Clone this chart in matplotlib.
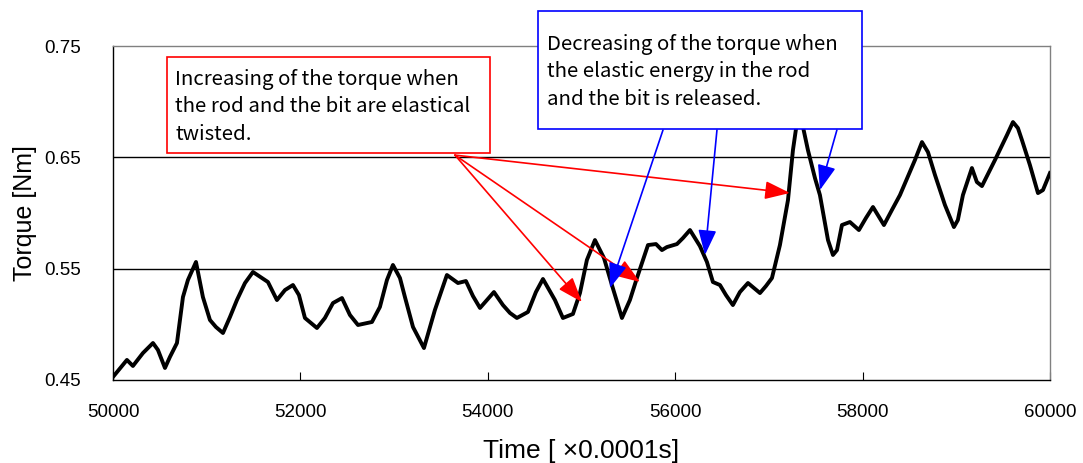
import matplotlib
matplotlib.use("Agg")
import matplotlib.pyplot as plt
from matplotlib.patches import Rectangle

# ── data ───────────────────────────────────────────────────────────────
time = [
    50000, 50149, 50213, 50320, 50427, 50480, 50555, 50608, 50683, 50747,
    50800, 50886, 50960, 51035, 51099, 51174, 51249, 51323, 51409, 51494,
    51590, 51654, 51750, 51836, 51921, 51985, 52049, 52177, 52262, 52348,
    52444, 52529, 52615, 52764, 52849, 52924, 52988, 53063, 53116, 53202,
    53319, 53436, 53564, 53682, 53767, 53842, 53917, 54066, 54162, 54237,
    54311, 54429, 54514, 54589, 54717, 54802, 54909, 54984, 55058, 55144,
    55240, 55325, 55432, 55517, 55592, 55710, 55795, 55859, 55912, 56019,
    56083, 56158, 56264, 56339, 56403, 56478, 56542, 56616, 56691, 56777,
    56905, 56969, 57033, 57118, 57204, 57257, 57300, 57353, 57417, 57492,
    57545, 57631, 57684, 57727, 57780, 57865, 57961, 58036, 58111, 58228,
    58313, 58399, 58559, 58634, 58698, 58773, 58879, 58975, 59017, 59071,
    59167, 59220, 59274, 59413, 59541, 59605, 59658, 59701, 59786, 59872,
    59925, 60000,
]
torque = [
    0.4527, 0.4680, 0.4626, 0.4742, 0.4832, 0.4770, 0.4608, 0.4707, 0.4832, 0.5245,
    0.5398, 0.5560, 0.5245, 0.5039, 0.4976, 0.4922, 0.5066, 0.5218, 0.5371, 0.5470,
    0.5416, 0.5380, 0.5218, 0.5308, 0.5353, 0.5263, 0.5057, 0.4967, 0.5057, 0.5191,
    0.5236, 0.5084, 0.4994, 0.5021, 0.5156, 0.5398, 0.5533, 0.5416, 0.5245, 0.4976,
    0.4787, 0.5129, 0.5443, 0.5371, 0.5389, 0.5254, 0.5147, 0.5290, 0.5173, 0.5102,
    0.5057, 0.5111, 0.5290, 0.5407, 0.5218, 0.5057, 0.5093, 0.5281, 0.5578, 0.5757,
    0.5596, 0.5353, 0.5057, 0.5218, 0.5416, 0.5712, 0.5721, 0.5667, 0.5694, 0.5721,
    0.5775, 0.5847, 0.5703, 0.5560, 0.5380, 0.5353, 0.5263, 0.5173, 0.5290, 0.5371,
    0.5281, 0.5344, 0.5416, 0.5712, 0.6116, 0.6565, 0.6817, 0.6817, 0.6565, 0.6314,
    0.6161, 0.5757, 0.5623, 0.5667, 0.5892, 0.5919, 0.5847, 0.5955, 0.6054, 0.5892,
    0.6027, 0.6161, 0.6476, 0.6637, 0.6547, 0.6341, 0.6072, 0.5874, 0.5937, 0.6161,
    0.6404, 0.6278, 0.6242, 0.6476, 0.6700, 0.6817, 0.6763, 0.6655, 0.6431, 0.6179,
    0.6206, 0.6359,
]

x_ticks = [50000, 52000, 54000, 56000, 58000, 60000]
y_ticks = [0.45, 0.55, 0.65, 0.75]

inc_text = "Increasing of the torque when\nthe rod and the bit are elastical\ntwisted."
dec_text = "Decreasing of the torque when\nthe elastic energy in the rod\nand the bit is released."

# arrow start -> tip, in data units
red_start = (53650, 0.652)
red_tips = [(55005, 0.520), (55624, 0.538), (57225, 0.618)]
blue_arrows = [
    ((55870, 0.6745), (55304, 0.5326)),
    ((56446, 0.6745), (56318, 0.5623)),
    ((57726, 0.6745), (57545, 0.6206)),
]

tick_font = ["Liberation Sans", "DejaVu Sans"]
note_font = ["Noto Sans CJK JP", "DejaVu Sans"]

fig = plt.figure(figsize=(10.83, 4.63), dpi=100)
ax = fig.add_axes([0.1043, 0.1793, 0.8652, 0.7213])

ax.plot(time, torque, color="black", linewidth=2.8, zorder=3)

ax.set_xlim(50000, 60000)
ax.set_ylim(0.45, 0.75)
ax.set_xticks(x_ticks)
ax.set_yticks(y_ticks)
ax.set_xticklabels([str(t) for t in x_ticks], family=tick_font, fontsize=13.5)
ax.set_yticklabels([f"{t:.2f}" for t in y_ticks], family=tick_font, fontsize=13.5)
ax.tick_params(axis="x", direction="in", length=6, width=0.8, pad=17)
ax.tick_params(axis="y", direction="out", length=0, pad=23)
for t in y_ticks[1:3]:
    ax.axhline(t, color="black", linewidth=1.0, zorder=1)

for side in ("left", "bottom"):
    ax.spines[side].set_color("black")
    ax.spines[side].set_linewidth(1.0)
for side in ("top", "right"):
    ax.spines[side].set_color("#808080")
    ax.spines[side].set_linewidth(1.0)

ax.set_ylabel("Torque [Nm]", family=tick_font, fontsize=18, labelpad=5)
ax.set_xlabel("Time [ ×0.0001s]", family=tick_font, fontsize=19, labelpad=13)

# ── arrows ────────────────────────────────────────────────────────────
for tip in red_tips:
    ax.annotate("", xy=tip, xytext=red_start, annotation_clip=False,
                arrowprops=dict(arrowstyle="-|>,head_length=0.55,head_width=0.2",
                                color="red", lw=1.2, mutation_scale=28,
                                shrinkA=0, shrinkB=0), zorder=4)
for start, tip in blue_arrows:
    ax.annotate("", xy=tip, xytext=start, annotation_clip=False,
                arrowprops=dict(arrowstyle="-|>,head_length=0.55,head_width=0.2",
                                color="blue", lw=1.2, mutation_scale=28,
                                shrinkA=0, shrinkB=0), zorder=4)

# ── text boxes (figure pixels / size) ─────────────────────────────────
W, H = 1083, 463
ax.add_patch(Rectangle((167 / W, 1 - 153 / H), 323 / W, 96 / H,
                       transform=fig.transFigure, clip_on=False,
                       facecolor="white", edgecolor="red", linewidth=1.2, zorder=10))
ax.add_patch(Rectangle((538 / W, 1 - 129 / H), 324 / W, 118 / H,
                       transform=fig.transFigure, clip_on=False,
                       facecolor="white", edgecolor="blue", linewidth=1.2, zorder=10))
fig.text(175 / W, 1 - 69 / H, inc_text, family=note_font, fontsize=14.7,
         va="top", ha="left", linespacing=1.4, zorder=11)
fig.text(547 / W, 1 - 34 / H, dec_text, family=note_font, fontsize=14.7,
         va="top", ha="left", linespacing=1.4, zorder=11)

fig.savefig("out.png", dpi=100)
